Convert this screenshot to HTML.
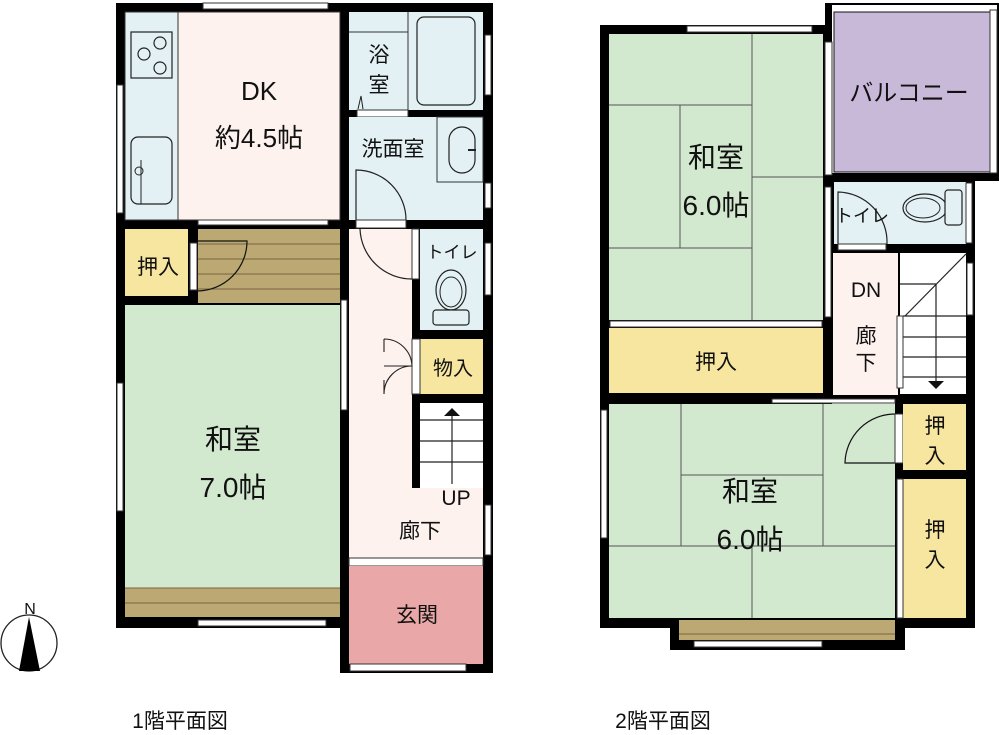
<!DOCTYPE html>
<html><head><meta charset="utf-8"><style>
html,body{margin:0;padding:0;background:#fff;width:1000px;height:735px;overflow:hidden}
text{font-family:"Liberation Sans","Noto Sans CJK JP",sans-serif;fill:#111}
</style></head><body>
<svg width="1000" height="735" viewBox="0 0 1000 735" xmlns="http://www.w3.org/2000/svg">
<!-- ===== 1F ===== -->
<rect x="116" y="3" width="230" height="625" fill="#000"/>
<rect x="340" y="3" width="153" height="670" fill="#000"/>
<!-- kitchen -->
<rect x="125" y="12" width="53" height="208" fill="#e3f1f5" stroke="#333" stroke-width="1"/>
<rect x="131" y="32" width="41" height="46" fill="#e3f1f5" stroke="#222" stroke-width="1.2"/>
<circle cx="160" cy="43" r="6" fill="none" stroke="#222" stroke-width="1.2"/>
<circle cx="144" cy="54" r="6" fill="none" stroke="#222" stroke-width="1.2"/>
<circle cx="160" cy="68" r="6" fill="none" stroke="#222" stroke-width="1.2"/>
<rect x="131" y="137" width="41" height="67" rx="7" fill="#e3f1f5" stroke="#222" stroke-width="1.2"/>
<line x1="141" y1="160" x2="141" y2="204" stroke="#222"/>
<circle cx="139" cy="171" r="4" fill="none" stroke="#222"/>
<!-- DK -->
<rect x="178" y="12" width="162" height="208" fill="#fdf2ee" stroke="#333"/>
<!-- bath -->
<rect x="349" y="12" width="134" height="98" fill="#e3f1f5"/>
<line x1="408" y1="12" x2="408" y2="110" stroke="#333"/>
<line x1="349" y1="32" x2="408" y2="32" stroke="#333"/>
<rect x="417" y="17" width="58" height="88" rx="7" fill="#e3f1f5" stroke="#222" stroke-width="1.2"/>
<rect x="357" y="110" width="51" height="7" fill="#fff" stroke="#333"/>
<path d="M358 109 L361 96 L363 109" fill="none" stroke="#222"/>
<!-- washroom -->
<rect x="349" y="117" width="134" height="103" fill="#e3f1f5"/>
<rect x="437" y="117" width="46" height="65" fill="#e3f1f5" stroke="#333"/>
<rect x="449" y="127" width="26" height="46" rx="13" fill="#e3f1f5" stroke="#222" stroke-width="1.2"/>
<line x1="468" y1="150" x2="476" y2="150" stroke="#222" stroke-width="2"/>
<path d="M356 220 L356 170 A50 50 0 0 1 406 220" fill="none" stroke="#222" stroke-width="1.2"/>
<rect x="356" y="220" width="50" height="8" fill="#fff" stroke="#333"/>
<!-- hallway -->
<rect x="349" y="229" width="63" height="330" fill="#fdf2ee"/>
<rect x="412" y="488" width="71" height="71" fill="#fdf2ee"/>
<rect x="412" y="229" width="7" height="50" fill="#fff" stroke="#333"/>
<path d="M360 229 A52 52 0 0 0 412 279" fill="none" stroke="#222" stroke-width="1.2"/>
<!-- toilet -->
<rect x="420" y="229" width="63" height="101" fill="#e3f1f5"/>
<ellipse cx="451" cy="290" rx="15" ry="20" fill="#e3f1f5" stroke="#222" stroke-width="1.2"/>
<ellipse cx="451" cy="292" rx="11" ry="15" fill="none" stroke="#222"/>
<rect x="433" y="310" width="36" height="15" rx="3" fill="#e3f1f5" stroke="#222" stroke-width="1.2"/>
<!-- storage -->
<rect x="420" y="339" width="63" height="55" fill="#f7e6a0"/>
<rect x="412" y="339" width="8" height="55" fill="#fff" stroke="#333"/>
<path d="M384 339 A28 28 0 0 1 412 366 L384 366 M384 394 A28 28 0 0 1 412 366 M384 339 L384 352 M384 394 L384 380" fill="none" stroke="#222" stroke-width="1.1"/>
<!-- stairs -->
<rect x="420" y="403" width="63" height="85" fill="#fff"/>
<g stroke="#222" stroke-width="1.2">
<line x1="420" y1="420" x2="483" y2="420"/><line x1="420" y1="441" x2="483" y2="441"/><line x1="420" y1="462" x2="483" y2="462"/>
<line x1="452" y1="414" x2="452" y2="484"/></g>
<polygon points="452,408 444,416 460,416" fill="#111"/>
<!-- genkan -->
<rect x="349" y="558" width="134" height="8" fill="#fff" stroke="#333"/>
<rect x="349" y="566" width="134" height="98" fill="#e9a7a7"/>
<rect x="350" y="664" width="116" height="7" fill="#fff" stroke="#333"/>
<!-- oshiire -->
<rect x="125" y="229" width="63" height="67" fill="#f7e6a0"/>
<rect x="190" y="243" width="7" height="47" fill="#fff" stroke="#333"/>
<!-- wood floor -->
<rect x="198" y="229" width="142" height="74" fill="#bba872"/>
<g stroke="#7a6440" stroke-width="1"><line x1="198" y1="244" x2="340" y2="244"/><line x1="198" y1="259" x2="340" y2="259"/><line x1="198" y1="274" x2="340" y2="274"/><line x1="198" y1="289" x2="340" y2="289"/></g>
<path d="M197 241 L247 241 A50 50 0 0 1 197 291" fill="none" stroke="#111" stroke-width="1.2"/>
<!-- washitsu 7 -->
<rect x="125" y="305" width="215" height="283" fill="#d2e8cf"/>
<rect x="125" y="588" width="215" height="29" fill="#bba872"/>
<g stroke="#7a6440"><line x1="125" y1="588" x2="340" y2="588"/><line x1="125" y1="603" x2="340" y2="603"/></g>
<!-- windows 1F -->
<g fill="#fff" stroke="#333" stroke-width="1">
<rect x="203" y="3" width="125" height="6"/><rect x="198" y="220" width="130" height="5"/>
<rect x="117" y="85" width="6" height="128"/><rect x="117" y="383" width="6" height="128"/>
<rect x="341" y="300" width="6" height="110"/><rect x="198" y="620" width="128" height="6"/>
<rect x="485" y="35" width="6" height="60"/><rect x="485" y="183" width="6" height="25"/>
<rect x="485" y="243" width="6" height="52"/><rect x="485" y="505" width="6" height="50"/>
</g>
<!-- ===== 2F ===== -->
<rect x="600" y="25" width="232" height="603" fill="#000"/>
<rect x="825" y="3" width="174" height="178" fill="#000"/>
<rect x="832" y="5" width="165" height="168" fill="#fff"/>
<rect x="834" y="12" width="156" height="160" fill="#c9b9d8" stroke="#111"/>
<rect x="825" y="175" width="150" height="225" fill="#000"/>
<rect x="895" y="395" width="80" height="233" fill="#000"/>
<rect x="670" y="600" width="235" height="50" fill="#000"/>
<!-- top washitsu -->
<rect x="609" y="34" width="214" height="286" fill="#d2e8cf"/>
<g stroke="#555" stroke-width="1"><line x1="752" y1="34" x2="752" y2="320"/><line x1="609" y1="105" x2="752" y2="105"/><line x1="609" y1="248" x2="752" y2="248"/><line x1="680" y1="105" x2="680" y2="248"/><line x1="752" y1="177" x2="823" y2="177"/></g>
<rect x="609" y="328" width="214" height="65" fill="#f7e6a0"/>
<!-- toilet 2F -->
<rect x="834" y="182" width="132" height="62" fill="#e3f1f5"/>
<path d="M838 244 L838 192 A50 50 0 0 1 887 244" fill="none" stroke="#222" stroke-width="1.2"/>
<rect x="838" y="244" width="48" height="6" fill="#fff" stroke="#333"/>
<ellipse cx="925" cy="208" rx="22" ry="14" fill="#e3f1f5" stroke="#222" stroke-width="1.2"/>
<ellipse cx="923" cy="208" rx="17" ry="10" fill="none" stroke="#222"/>
<rect x="945" y="190" width="17" height="35" rx="3" fill="#e3f1f5" stroke="#222" stroke-width="1.2"/>
<!-- hall 2F -->
<rect x="833" y="253" width="65" height="142" fill="#fdf2ee"/>
<rect x="900" y="253" width="66" height="141" fill="#fff"/>
<g stroke="#222" stroke-width="1.2">
<line x1="966" y1="254" x2="905" y2="316"/><line x1="900" y1="284" x2="936" y2="284"/><line x1="936" y1="284" x2="936" y2="384"/>
<line x1="903" y1="316" x2="966" y2="316"/><line x1="903" y1="337" x2="966" y2="337"/><line x1="903" y1="357" x2="966" y2="357"/><line x1="903" y1="377" x2="966" y2="377"/></g>
<polygon points="936,389 928,381 944,381" fill="#111"/>
<rect x="897" y="316" width="6" height="72" fill="#fff" stroke="#333"/>
<!-- bottom washitsu -->
<rect x="609" y="404" width="286" height="214" fill="#d2e8cf"/>
<g stroke="#555"><line x1="681" y1="404" x2="681" y2="546"/><line x1="681" y1="475" x2="823" y2="475"/><line x1="823" y1="404" x2="823" y2="546"/><line x1="609" y1="546" x2="895" y2="546"/><line x1="752" y1="546" x2="752" y2="618"/></g>
<rect x="679" y="620" width="216" height="20" fill="#bba872"/>
<line x1="679" y1="634" x2="895" y2="634" stroke="#7a6440"/>
<path d="M895 463 L845 463 A50 50 0 0 1 895 414" fill="none" stroke="#111" stroke-width="1.2"/>
<rect x="895" y="414" width="8" height="49" fill="#fff" stroke="#333"/>
<rect x="903" y="404" width="63" height="66" fill="#f7e6a0"/>
<rect x="903" y="479" width="63" height="139" fill="#f7e6a0"/>
<rect x="897" y="479" width="6" height="139" fill="#fff" stroke="#333"/>
<!-- windows 2F -->
<g fill="#fff" stroke="#333" stroke-width="1">
<rect x="687" y="26" width="125" height="6"/><rect x="825" y="42" width="7" height="133"/>
<rect x="825" y="187" width="6" height="130"/><rect x="610" y="321" width="212" height="6"/>
<rect x="772" y="399" width="123" height="4"/><rect x="966" y="183" width="6" height="60"/>
<rect x="967" y="263" width="6" height="52"/><rect x="601" y="410" width="6" height="128"/>
<rect x="694" y="641" width="128" height="6"/><rect x="990" y="10" width="7" height="163"/>
</g>
<!-- labels -->
<g font-size="26" text-anchor="middle">
<text x="259" y="100">DK</text>
<text x="259" y="147">約4.5帖</text>
<text x="233" y="449" font-size="28">和室</text>
<text x="233" y="497" font-size="28">7.0帖</text>
<text x="716" y="167" font-size="28">和室</text>
<text x="716" y="215" font-size="28">6.0帖</text>
<text x="750" y="501" font-size="28">和室</text>
<text x="750" y="549" font-size="28">6.0帖</text>
</g>
<g font-size="21" text-anchor="middle">
<text x="379" y="62">浴</text><text x="379" y="92">室</text>
<text x="393" y="156">洗面室</text>
<text x="452" y="258" font-size="17">トイレ</text>
<text x="453" y="375" font-size="20">物入</text>
<text x="456" y="505">UP</text>
<text x="420" y="538">廊下</text>
<text x="417" y="622">玄関</text>
<text x="158" y="274">押入</text>
<text x="909" y="101" font-size="24">バルコニー</text>
<text x="862" y="222" font-size="18">トイレ</text>
<text x="866" y="297">DN</text>
<text x="866" y="343">廊</text><text x="866" y="370">下</text>
<text x="716" y="369">押入</text>
<text x="935" y="433">押</text><text x="935" y="463">入</text>
<text x="935" y="537">押</text><text x="935" y="567">入</text>
<text x="180" y="728">1階平面図</text>
<text x="663" y="728">2階平面図</text>
<text x="30" y="614" font-size="16">N</text>
</g>
<circle cx="29" cy="643" r="28" fill="#fff" stroke="#222" stroke-width="1.3"/>
<polygon points="29,617 19,671 40,671" fill="#000"/>
</svg>
</body></html>
